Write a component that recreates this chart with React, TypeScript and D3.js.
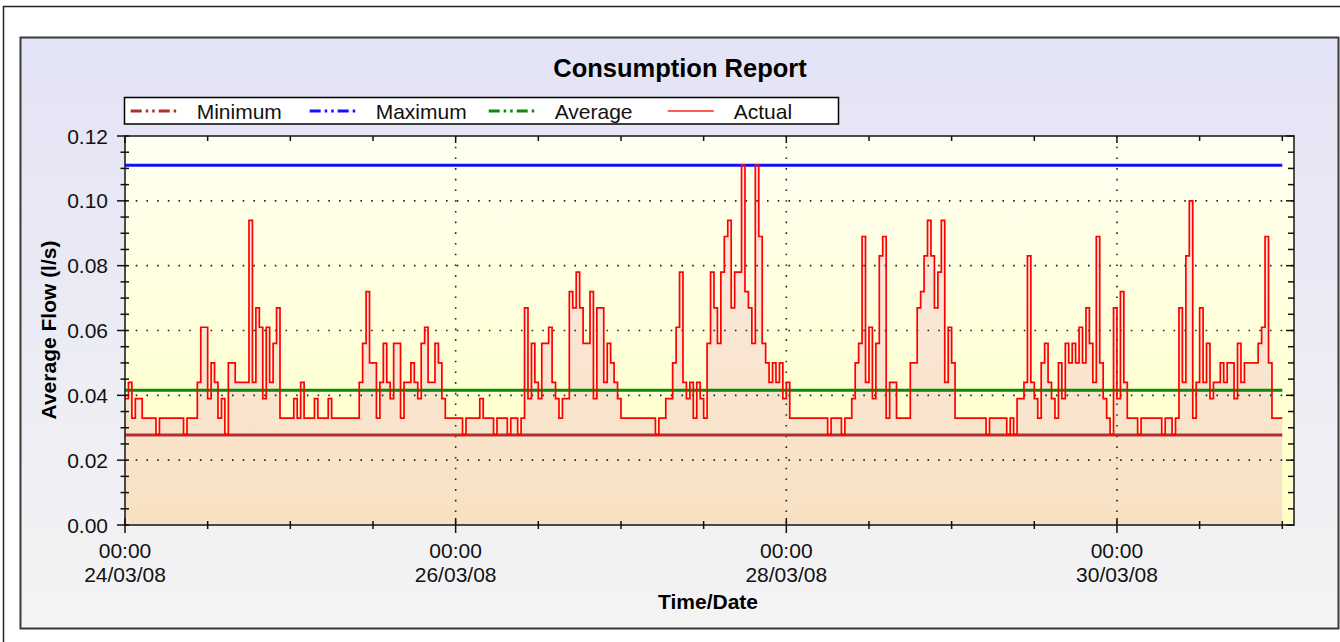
import React from "react";
import * as d3 from "d3";

// ---- data (l/s, one reading every 30 minutes from 24/03/08 00:00) ----
const day24 = [0.039,0.044,0.033,0.039,0.039,0.033,0.033,0.033,0.033,0.028,0.033,0.033,0.033,0.033,0.033,0.033,0.033,0.028,0.033,0.033,0.033,0.044,0.061,0.061,0.039,0.05,0.044,0.033,0.039,0.028,0.05,0.05,0.044,0.044,0.044,0.044,0.094,0.044,0.067,0.061,0.039,0.061,0.044,0.056,0.067,0.033,0.033,0.033];
const day25 = [0.033,0.039,0.033,0.044,0.033,0.033,0.033,0.039,0.033,0.033,0.033,0.039,0.033,0.033,0.033,0.033,0.033,0.033,0.033,0.033,0.044,0.056,0.072,0.05,0.05,0.033,0.044,0.056,0.044,0.039,0.056,0.056,0.033,0.044,0.044,0.05,0.044,0.039,0.056,0.061,0.044,0.044,0.056,0.05,0.039,0.033,0.033,0.033];
const day26 = [0.033,0.033,0.028,0.033,0.033,0.033,0.033,0.039,0.033,0.033,0.033,0.028,0.033,0.033,0.033,0.028,0.033,0.033,0.028,0.033,0.067,0.039,0.056,0.044,0.039,0.056,0.056,0.061,0.044,0.039,0.033,0.039,0.039,0.072,0.067,0.078,0.067,0.056,0.056,0.072,0.039,0.067,0.067,0.044,0.056,0.05,0.044,0.039];
const day27 = [0.033,0.033,0.033,0.033,0.033,0.033,0.033,0.033,0.033,0.033,0.028,0.033,0.033,0.039,0.039,0.05,0.061,0.078,0.044,0.039,0.044,0.033,0.044,0.039,0.033,0.056,0.078,0.067,0.056,0.078,0.089,0.094,0.067,0.078,0.078,0.111,0.072,0.067,0.056,0.111,0.089,0.056,0.05,0.044,0.05,0.044,0.05,0.039];
const day28 = [0.044,0.033,0.033,0.033,0.033,0.033,0.033,0.033,0.033,0.033,0.033,0.033,0.028,0.033,0.033,0.033,0.028,0.033,0.033,0.039,0.05,0.056,0.089,0.044,0.061,0.039,0.056,0.083,0.089,0.033,0.044,0.044,0.033,0.033,0.033,0.033,0.05,0.05,0.067,0.072,0.083,0.094,0.083,0.067,0.078,0.094,0.044,0.061];
const day29 = [0.05,0.033,0.033,0.033,0.033,0.033,0.033,0.033,0.033,0.033,0.028,0.033,0.033,0.033,0.033,0.033,0.028,0.033,0.028,0.039,0.039,0.044,0.083,0.044,0.039,0.033,0.05,0.056,0.044,0.039,0.033,0.05,0.039,0.056,0.05,0.056,0.05,0.061,0.05,0.067,0.056,0.044,0.089,0.05,0.039,0.033,0.028,0.067];
const day30 = [0.039,0.072,0.044,0.033,0.033,0.033,0.028,0.033,0.033,0.033,0.033,0.033,0.033,0.028,0.033,0.033,0.028,0.033,0.067,0.044,0.083,0.1,0.033,0.044,0.067,0.044,0.056,0.039,0.044,0.044,0.05,0.044,0.05,0.05,0.039,0.056,0.044,0.05,0.05,0.05,0.05,0.056,0.061,0.089,0.05,0.033,0.033,0.033];
const day31 = [0.033];

const minimumFlow = 0.0278;
const maximumFlow = 0.111;
const averageFlow = 0.0416;

const yTickValues = [0, 0.02, 0.04, 0.06, 0.08, 0.1, 0.12];
const xLabelDays = [24, 26, 28, 30];
const legendNames = ["Minimum", "Maximum", "Average", "Actual"];
const legendColors = ["#b03030", "#1010ff", "#0a8a0a", "#ff2020"];

const HALF_HOUR = 30 * 60 * 1000;
const HOUR = 60 * 60 * 1000;
const DAY = 24 * HOUR;
const START = Date.UTC(2008, 2, 24, 0, 0);

const actualValues = [...day24, ...day25, ...day26, ...day27, ...day28, ...day29, ...day30, ...day31];
const actual = actualValues.map((v, i) => ({ t: new Date(START + i * HALF_HOUR), v }));
const dataEnd = new Date(START + (actualValues.length - 1) * HALF_HOUR);

const FONT = "'Liberation Sans', Arial, Helvetica, sans-serif";

export default function App() {
  const L = 125, R = 1294, T = 136, B = 525;
  const x = d3.scaleUtc().domain([new Date(START), new Date(START + 7 * DAY + 1.7 * HOUR)]).range([L, R]);
  const y = d3.scaleLinear().domain([0, 0.12]).range([B, T]);

  const area = d3.area<{ t: Date; v: number }>()
    .x(d => x(d.t)).y0(y(0)).y1(d => y(d.v)).curve(d3.curveStepAfter);
  const line = d3.line<{ t: Date; v: number }>()
    .x(d => x(d.t)).y(d => y(d.v)).curve(d3.curveStepAfter);

  const yMinor = d3.range(0, 0.12001, 0.005);
  const xTicks = d3.range(0, 15).map(k => new Date(START + k * 12 * HOUR));
  const fmtTime = d3.utcFormat("%H:%M");
  const fmtDate = d3.utcFormat("%d/%m/%y");
  const majorX = xLabelDays.map(dd => new Date(Date.UTC(2008, 2, dd)));
  const isMajorX = (d: Date) => (d.getTime() - START) % (2 * DAY) === 0;
  const isMajorY = (v: number) => Math.abs(Math.round(v / 0.02) * 0.02 - v) < 1e-6;

  const x0 = x(new Date(START));
  const x1 = x(dataEnd);
  const refLines = [
    { v: minimumFlow, c: legendColors[0] },
    { v: maximumFlow, c: legendColors[1] },
    { v: averageFlow, c: legendColors[2] },
  ];

  return (
    <svg width={1340} height={642} style={{ position: "absolute", left: 0, top: 0, fontFamily: FONT }}>
      <defs>
        <linearGradient id="panelBg" x1="0" y1="0" x2="0" y2="1">
          <stop offset="0" stopColor="#e3e3f6" />
          <stop offset="1" stopColor="#f4f4f4" />
        </linearGradient>
        <linearGradient id="plotBg" gradientUnits="userSpaceOnUse" x1="0" y1={T} x2="0" y2={B}>
          <stop offset="0" stopColor="#fffff2" />
          <stop offset="1" stopColor="#ffffc4" />
        </linearGradient>
        <linearGradient id="fillBg" gradientUnits="userSpaceOnUse" x1="0" y1={T} x2="0" y2={B}>
          <stop offset="0" stopColor="#fbebe6" />
          <stop offset="1" stopColor="#f8e1c2" />
        </linearGradient>
      </defs>
      <rect x={0} y={0} width={1340} height={642} fill="#ffffff" />
      <rect x={3.5} y={6.5} width={1360} height={660} fill="#ffffff" stroke="#222" strokeWidth={1.5} />
      <rect x={20.5} y={37.5} width={1318} height={591} fill="url(#panelBg)" stroke="#3a3a3a" strokeWidth={2} />

      <text x={680} y={77} textAnchor="middle" fontSize={25.5} fontWeight="bold" fill="#000">Consumption Report</text>

      {/* legend */}
      <rect x={124.5} y={97.5} width={714} height={26.5} fill="#ffffff" stroke="#000" strokeWidth={1.5} />
      {legendNames.map((name, k) => {
        const lx = 130.7 + k * 179;
        return (
          <g key={name}>
            <line x1={lx} x2={lx + 46} y1={111} y2={111} stroke={legendColors[k]} strokeWidth={k === 3 ? 1.6 : 3}
              strokeDasharray={k === 3 ? undefined : "11,4,2.5,4,2.5,4"} />
            <text x={lx + 66} y={119} fontSize={21} fill="#111">{name}</text>
          </g>
        );
      })}

      {/* plot */}
      <rect x={L} y={T} width={R - L} height={B - T} fill="url(#plotBg)" />
      <path d={area(actual) || ""} fill="url(#fillBg)" />

      {yTickValues.filter(v => v > 0 && v < 0.12).map(v => (
        <line key={"gy" + v} x1={L} x2={R} y1={y(v)} y2={y(v)} stroke="#222" strokeWidth={1.6}
          strokeDasharray="1.6,9.1" />
      ))}
      {majorX.filter(d => d.getTime() > START).map(d => (
        <line key={"gx" + d.getTime()} x1={x(d)} x2={x(d)} y1={T} y2={B} stroke="#222" strokeWidth={1.6}
          strokeDasharray="1.6,9.1" />
      ))}

      {refLines.map(r => (
        <line key={r.c} x1={x0} x2={x1} y1={y(r.v)} y2={y(r.v)} stroke={r.c} strokeWidth={3} />
      ))}
      <path d={line(actual) || ""} fill="none" stroke="#ff0000" strokeWidth={1.7} strokeLinejoin="miter" />

      <rect x={L} y={T} width={R - L} height={B - T} fill="none" stroke="#222" strokeWidth={1.6} />

      {/* y ticks */}
      {yMinor.map(v => {
        const maj = isMajorY(v);
        return (
          <g key={"ty" + v}>
            <line x1={maj ? 117 : 120.5} x2={129} y1={y(v)} y2={y(v)} stroke="#111" strokeWidth={1.5} />
            <line x1={maj ? R - 8 : R - 6} x2={R} y1={y(v)} y2={y(v)} stroke="#111" strokeWidth={1.5} />
          </g>
        );
      })}
      {yTickValues.map(v => (
        <text key={"ly" + v} x={108} y={y(v) + 7.5} textAnchor="end" fontSize={21} fill="#111">{d3.format(".2f")(v)}</text>
      ))}

      {/* x ticks */}
      {xTicks.map(d => {
        const maj = isMajorX(d);
        const px = x(d);
        return (
          <g key={"tx" + d.getTime()}>
            <line x1={px} x2={px} y1={maj ? 518 : 521} y2={maj ? 533 : 529} stroke="#111" strokeWidth={1.5} />
            <line x1={px} x2={px} y1={T} y2={T + (maj ? 7 : 5)} stroke="#111" strokeWidth={1.5} />
          </g>
        );
      })}
      {majorX.map(d => (
        <g key={"lx" + d.getTime()}>
          <text x={x(d)} y={558} textAnchor="middle" fontSize={21} fill="#111">{fmtTime(d)}</text>
          <text x={x(d)} y={582} textAnchor="middle" fontSize={21} fill="#111">{fmtDate(d)}</text>
        </g>
      ))}

      <text x={708} y={609} textAnchor="middle" fontSize={21} fontWeight="bold" fill="#000">Time/Date</text>
      <text transform="translate(55.5,330) rotate(-90)" textAnchor="middle" fontSize={21} fontWeight="bold" fill="#000">Average Flow (l/s)</text>
    </svg>
  );
}
